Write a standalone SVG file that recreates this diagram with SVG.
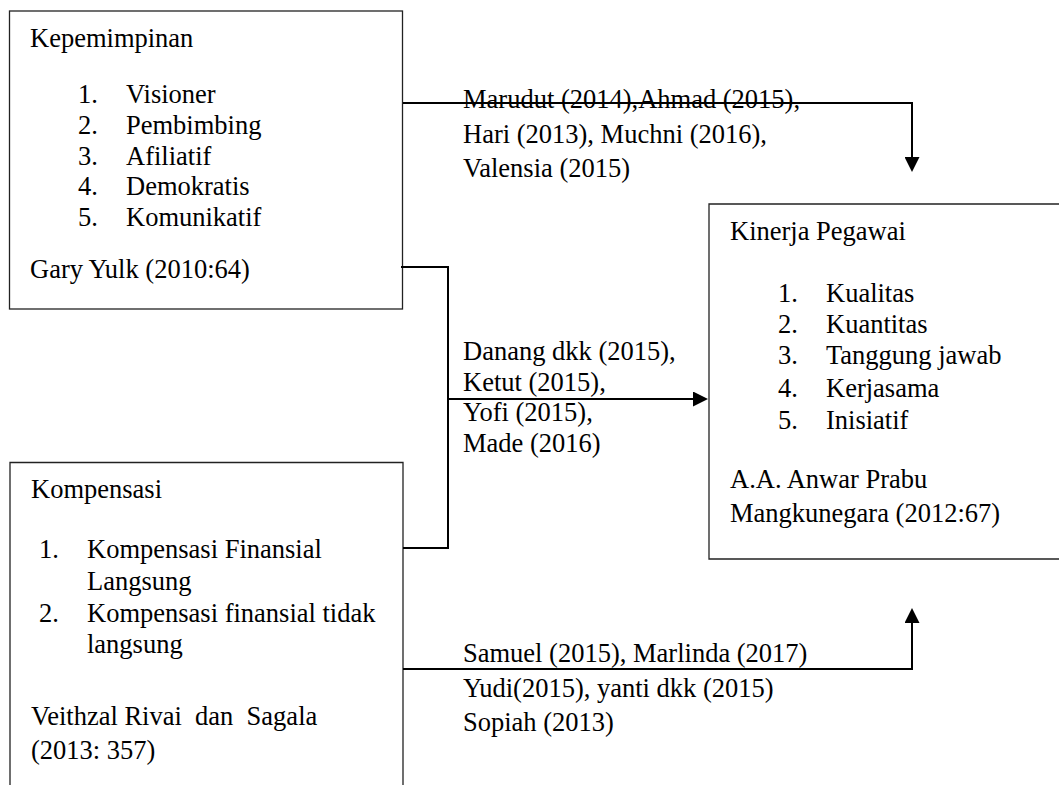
<svg xmlns="http://www.w3.org/2000/svg" width="1059" height="785" viewBox="0 0 1059 785">
<style>
text { font-family: "Liberation Serif", "Times New Roman", serif; font-size: 26.5px; fill: #000; }
.box { fill: none; stroke: #222; stroke-width: 1.3; }
.conn { fill: none; stroke: #000; stroke-width: 2; }
</style>
<defs>
<marker id="arrow" viewBox="0 0 15 15" refX="0" refY="7.5" markerWidth="15" markerHeight="15" markerUnits="userSpaceOnUse" orient="auto">
<path d="M0,0 L15,7.5 L0,15 z" fill="#000"/>
</marker>
</defs>
<rect width="1059" height="785" fill="#fff"/>
<g id="kepemimpinan">
<rect class="box" x="9.5" y="11" width="393" height="298"/>
<text x="30" y="47">Kepemimpinan</text>
<text x="78" y="103">1.</text><text x="126" y="103">Visioner</text>
<text x="78" y="134">2.</text><text x="126" y="134">Pembimbing</text>
<text x="78" y="164.5">3.</text><text x="126" y="164.5">Afiliatif</text>
<text x="78" y="195">4.</text><text x="126" y="195">Demokratis</text>
<text x="78" y="226">5.</text><text x="126" y="226">Komunikatif</text>
<text x="30" y="278">Gary Yulk (2010:64)</text>
</g>
<g id="kompensasi">
<path class="box" d="M10,785 V462.5 H403 V785"/>
<text x="31" y="498">Kompensasi</text>
<text x="39" y="558">1.</text><text x="87" y="558">Kompensasi Finansial</text>
<text x="87" y="590">Langsung</text>
<text x="39" y="622">2.</text><text x="87" y="622">Kompensasi finansial tidak</text>
<text x="87" y="653">langsung</text>
<text x="31" y="725" xml:space="preserve">Veithzal Rivai  dan  Sagala</text>
<text x="31" y="759">(2013: 357)</text>
</g>
<g id="kinerja">
<path class="box" d="M1059,204 H709 V559 H1059"/>
<text x="730" y="240">Kinerja Pegawai</text>
<text x="778" y="302">1.</text><text x="826" y="302">Kualitas</text>
<text x="778" y="333">2.</text><text x="826" y="333">Kuantitas</text>
<text x="778" y="364">3.</text><text x="826" y="364">Tanggung jawab</text>
<text x="778" y="397">4.</text><text x="826" y="397">Kerjasama</text>
<text x="778" y="429">5.</text><text x="826" y="429">Inisiatif</text>
<text x="730" y="488">A.A. Anwar Prabu</text>
<text x="730" y="522">Mangkunegara (2012:67)</text>
</g>
<g id="connectors">
<path class="conn" d="M403,103 H912 V157" marker-end="url(#arrow)"/>
<path class="conn" d="M401,267 H448 V548 H403"/>
<path class="conn" d="M448,399 H693" marker-end="url(#arrow)"/>
<path class="conn" d="M403,669 H912 V623" marker-end="url(#arrow)"/>
</g>
<g id="labels">
<text x="463" y="108">Marudut (2014),Ahmad (2015),</text>
<text x="463" y="142.5">Hari (2013), Muchni (2016),</text>
<text x="463" y="177">Valensia (2015)</text>
<text x="463" y="360">Danang dkk (2015),</text>
<text x="463" y="390.5">Ketut (2015),</text>
<text x="463" y="421">Yofi (2015),</text>
<text x="463" y="452">Made (2016)</text>
<text x="463" y="662">Samuel (2015), Marlinda (2017)</text>
<text x="463" y="697">Yudi(2015), yanti dkk (2015)</text>
<text x="463" y="731">Sopiah (2013)</text>
</g>
</svg>
